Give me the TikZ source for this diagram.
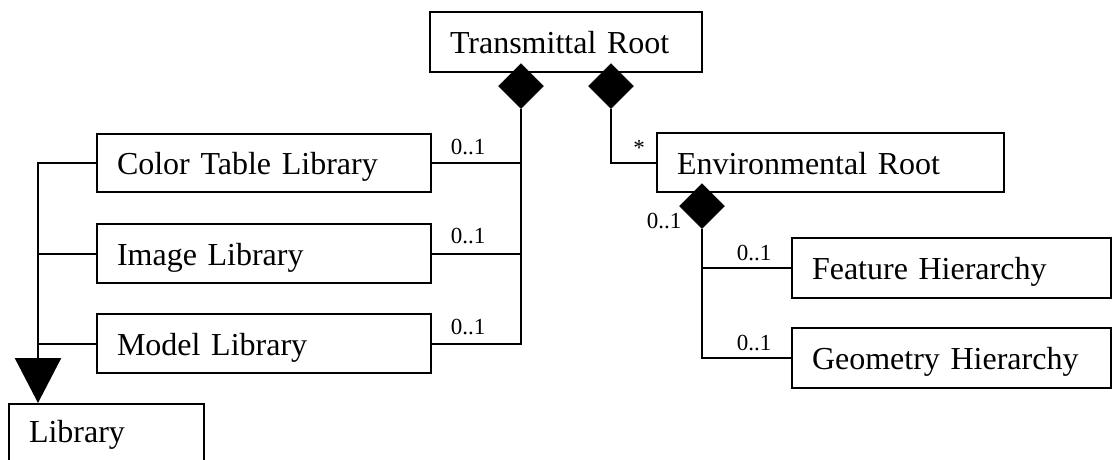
\documentclass[tikz,border=0pt]{standalone}
\usepackage{fontspec}
\setmainfont{Liberation Serif}
\usetikzlibrary{shapes.geometric,arrows.meta}
\newcommand{\boxfont}{\fontsize{32}{38}\selectfont}
\newcommand{\multfont}{\fontsize{23}{27}\selectfont}
\tikzset{
  classbox/.style={draw, line width=2pt, anchor=north west, inner xsep=20pt,
    inner ysep=0pt, text height=23pt, text depth=0pt, align=left, font=\boxfont},
  agg/.style={diamond, draw, fill=black, line width=0.5pt, inner sep=0pt,
    minimum width=45pt, minimum height=45pt},
  conn/.style={line width=2pt},
  gen/.style={line width=2.5pt, -{Triangle[width=46pt,length=45pt]}},
  mult/.style={font=\multfont, anchor=base, inner sep=0pt},
}
\begin{document}
\begin{tikzpicture}[x=1pt,y=-1pt]
\clip (0,0) rectangle (1112,459);
\fill[white] (0,0) rectangle (1112,459);

% classes
\node[classbox, minimum height=60pt, text width=232pt] (troot) at (429,11) {\mbox{Transmittal Root}};
\node[classbox, minimum height=58pt, text width=294pt] (ctl) at (96,133) {\mbox{Color Table Library}};
\node[classbox, minimum height=59pt, text width=294pt] (img) at (96,223) {\mbox{Image Library}};
\node[classbox, minimum height=59pt, text width=294pt] (mdl) at (96,313) {\mbox{Model Library}};
\node[classbox, minimum height=70pt, text width=155pt, text depth=17pt] (lib) at (8,403) {\mbox{Library}};
\node[classbox, minimum height=59pt, text width=307pt] (env) at (656,132) {\mbox{Environmental Root}};
\node[classbox, minimum height=60pt, text width=279pt] (feat) at (791,237) {\mbox{Feature Hierarchy}};
\node[classbox, minimum height=60pt, text width=279pt] (geom) at (791,327) {\mbox{Geometry Hierarchy}};

% composition diamonds
\node[agg] (d1) at (521,86) {};
\node[agg] (d2) at (611,86) {};
\node[agg] (d3) at (702,206) {};

% compositions of the transmittal root
\draw[conn] (d1.south) |- (mdl.east);
\draw[conn] (ctl.east) -- (ctl.east -| d1.south);
\draw[conn] (img.east) -- (img.east -| d1.south);
\draw[conn] (d2.south) |- (env.west);

% compositions of the environmental root
\draw[conn] (d3.south) |- (geom.west);
\draw[conn] (feat.west) -- (feat.west -| d3.south);

% generalization to Library
\coordinate (gtip) at (38,403);
\draw[conn] (img.west) -- (img.west -| gtip);
\draw[conn] (mdl.west) -- (mdl.west -| gtip);
\draw[gen] (ctl.west) -| (gtip);

% multiplicities
\node[mult] (m1) at (468,154) {0..1};
\node[mult] (m2) at (468,243) {0..1};
\node[mult] (m3) at (468,334) {0..1};
\node[mult] (m4) at (639,155) {*};
\node[mult] (m5) at (664,228) {0..1};
\node[mult] (m6) at (754,260) {0..1};
\node[mult] (m7) at (754,350) {0..1};
\end{tikzpicture}
\end{document}
